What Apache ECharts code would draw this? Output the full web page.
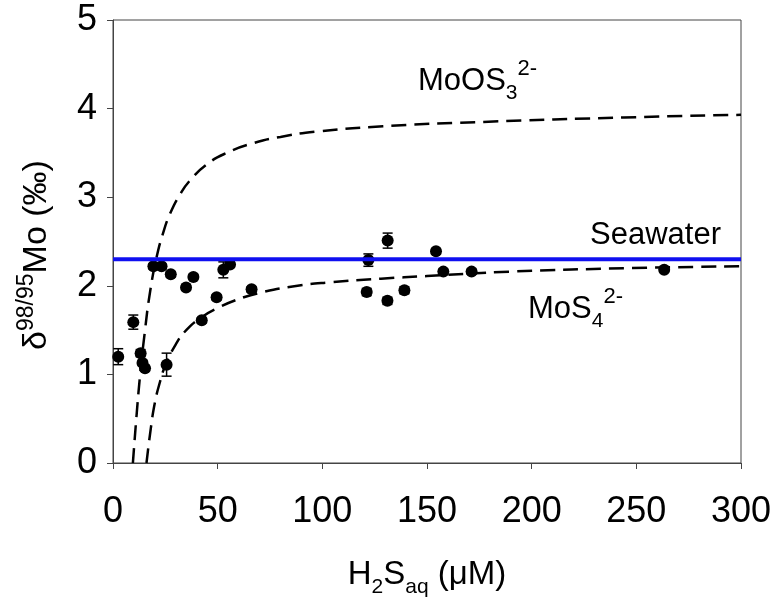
<!DOCTYPE html>
<html><head><meta charset="utf-8">
<script src="https://cdn.jsdelivr.net/npm/echarts@6/dist/echarts.min.js"></script>
<style>html,body{margin:0;padding:0;background:#fff}#c{width:779px;height:598px}</style>
</head><body><div id="c"></div>
<script>
// ---- data ----
const xTicks = [0, 50, 100, 150, 200, 250, 300];
const yTicks = [0, 1, 2, 3, 4, 5];

const sampleX   = [2.5, 9.7, 13.2, 14.1, 15.3, 25.6, 19.3, 23.2, 27.6, 34.9, 38.4, 42.4, 49.5, 52.7, 55.9, 66.2, 122, 131.2, 121.2, 131.1, 139.2, 154.3, 157.8, 171.3, 263.3];
const sampleY   = [1.20, 1.59, 1.24, 1.13, 1.07, 1.11, 2.22, 2.22, 2.13, 1.98, 2.10, 1.61, 1.87, 2.18, 2.24, 1.96, 2.29, 2.51, 1.93, 1.83, 1.95, 2.39, 2.16, 2.16, 2.18];
const sampleErr = [0.09, 0.08, 0.04, 0.03, 0.03, 0.13, 0.03, 0.03, 0.03, 0.03, 0.03, 0.03, 0.03, 0.09, 0.03, 0.03, 0.07, 0.085, 0.04, 0.04, 0.04, 0.03, 0.03, 0.03, 0.02];

const seawaterX = [0, 300];
const seawaterY = [2.3, 2.3];

const moos3X = [9.5, 11.3, 12.9, 15.3, 17.7, 20.9, 24.0, 27.2, 32.0, 36.8, 44.8, 54.3, 67, 80, 97, 129, 177, 244, 300];
const moos3Y = [0, 0.55, 0.98, 1.50, 1.93, 2.33, 2.60, 2.81, 3.03, 3.19, 3.37, 3.50, 3.61, 3.68, 3.74, 3.80, 3.85, 3.90, 3.93];

const mos4X = [16, 18, 20, 22.5, 25, 30, 35, 42, 51, 60, 70, 85, 104, 128, 150, 190, 248, 300];
const mos4Y = [0, 0.38, 0.68, 0.92, 1.10, 1.34, 1.50, 1.64, 1.76, 1.85, 1.92, 1.99, 2.04, 2.08, 2.11, 2.16, 2.20, 2.22];

// ---- chart ----
const FONT = 'Liberation Sans, Arial, sans-serif';
const chart = echarts.init(document.getElementById('c'), null, {renderer: 'canvas'});
const zip = (xs, ys) => xs.map((x, i) => [x, ys[i]]);

const errStyle = {stroke: '#000', lineWidth: 1.5};
function renderErr(params, api) {
  const x = api.value(0), lo = api.value(1), hi = api.value(2);
  const p1 = api.coord([x, lo]), p2 = api.coord([x, hi]);
  const w = 5;
  return {type: 'group', children: [
    {type: 'line', shape: {x1: p1[0], y1: p1[1], x2: p2[0], y2: p2[1]}, style: errStyle},
    {type: 'line', shape: {x1: p1[0] - w, y1: p1[1], x2: p1[0] + w, y2: p1[1]}, style: errStyle},
    {type: 'line', shape: {x1: p2[0] - w, y1: p2[1], x2: p2[0] + w, y2: p2[1]}, style: errStyle}
  ]};
}

const labelRich = {
  a: {fontSize: 31, lineHeight: 46, fontFamily: FONT, color: '#000'},
  sub: {fontSize: 21, lineHeight: 21, verticalAlign: 'bottom', fontFamily: FONT, color: '#000'},
  sup: {fontSize: 22, lineHeight: 24, verticalAlign: 'top', fontFamily: FONT, color: '#000'}
};

chart.setOption({
  animation: false,
  backgroundColor: '#fff',
  grid: {left: 113, right: 38, top: 20, bottom: 135, show: true, borderColor: '#444', borderWidth: 1,
    containLabel: false, outerBoundsMode: 'none'},
  xAxis: {
    type: 'value', min: xTicks[0], max: xTicks[xTicks.length - 1], interval: xTicks[1] - xTicks[0],
    splitLine: {show: false},
    axisLine: {lineStyle: {color: '#444', width: 1}},
    axisTick: {show: true, inside: false, length: 6, lineStyle: {color: '#444'}},
    axisLabel: {fontSize: 36, fontFamily: FONT, color: '#000', margin: 31},
    name: '{a|H}{b|2}{a|S}{b|aq}{a| (μM)}',
    nameLocation: 'middle', nameGap: 89,
    nameTextStyle: {
      rich: {
        a: {fontSize: 33, lineHeight: 46, fontFamily: FONT, color: '#000'},
        b: {fontSize: 21, lineHeight: 21, verticalAlign: 'bottom', fontFamily: FONT, color: '#000'}
      }
    }
  },
  yAxis: {
    type: 'value', min: yTicks[0], max: yTicks[yTicks.length - 1], interval: yTicks[1] - yTicks[0],
    splitLine: {show: false},
    axisLine: {lineStyle: {color: '#444', width: 1}},
    axisTick: {show: true, inside: false, length: 6, lineStyle: {color: '#444'}},
    axisLabel: {fontSize: 36, fontFamily: FONT, color: '#000', margin: 16},
    name: '{d|δ}{s|98/95}{m|Mo (‰)}',
    nameLocation: 'middle', nameRotate: 90, nameGap: 54,
    nameTextStyle: {
      padding: [0, 27, 0, 0],
      rich: {
        d: {fontSize: 34, lineHeight: 44, fontFamily: FONT, color: '#000'},
        s: {fontSize: 23, lineHeight: 24, verticalAlign: 'top', fontFamily: FONT, color: '#000'},
        m: {fontSize: 34, lineHeight: 44, fontFamily: FONT, color: '#000'}
      }
    }
  },
  graphic: [
    {type: 'text', left: 418, top: 58, z: 10,
      style: {text: '{a|MoOS}{sub|3}{sup|2-}', rich: labelRich, fill: '#000'}},
    {type: 'text', left: 590, top: 220, z: 10,
      style: {text: 'Seawater', font: '31px ' + FONT, fill: '#000'}},
    {type: 'text', left: 528, top: 286, z: 10,
      style: {text: '{a|MoS}{sub|4}{sup|2-}', rich: labelRich, fill: '#000'}}
  ],
  series: [
    {type: 'line', data: zip(moos3X, moos3Y), showSymbol: false, smooth: 0.5,
      lineStyle: {color: '#000', width: 2.5, type: [15, 8]}, z: 2},
    {type: 'line', data: zip(mos4X, mos4Y), showSymbol: false, smooth: 0.5,
      lineStyle: {color: '#000', width: 2.5, type: [15, 8]}, z: 2},
    {type: 'custom', renderItem: renderErr, encode: {x: 0, y: [1, 2]},
      data: sampleX.map((x, i) => [x, sampleY[i] - sampleErr[i], sampleY[i] + sampleErr[i]]), z: 3},
    {type: 'scatter', data: zip(sampleX, sampleY), symbol: 'circle', symbolSize: 12,
      itemStyle: {color: '#000', opacity: 1}, z: 4},
    {type: 'line', data: zip(seawaterX, seawaterY), showSymbol: false,
      lineStyle: {color: '#1010f0', width: 4}, z: 5}
  ]
});
</script>
</body></html>
